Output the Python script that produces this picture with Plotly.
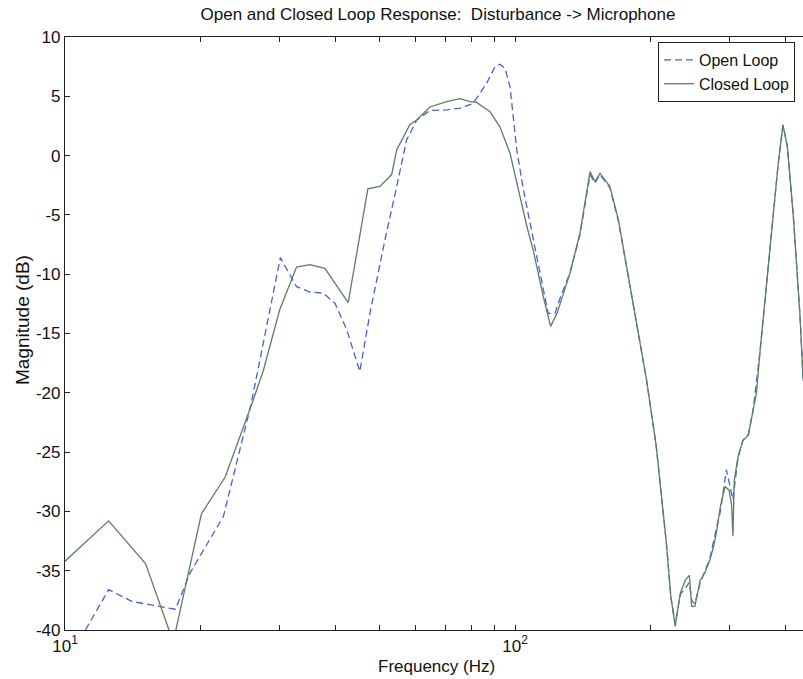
import plotly.graph_objects as go

# ---- data ----
closed_freq = [10, 12.5, 15.1, 17.4, 20.1, 22.7, 26.2, 27.6, 30.0, 32.7, 35.0, 37.8, 42.6, 47.1,
               50.1, 53.2, 54.6, 58.4, 60.5, 64.7, 70.5, 75.5, 79.4, 82.0, 88.0, 92.6, 97.5,
               100.9, 106.3, 109.8, 115.6, 120, 124, 132.5, 139.4, 146.8, 150.6, 154.5, 162.5, 169.7, 177, 196,
               206, 217, 222, 227, 233, 239, 244, 247, 251, 258, 264, 271, 276, 280, 286, 293,
               299, 303, 305, 307, 313, 321, 330, 338, 344, 350, 362, 371, 384, 394, 403, 416,
               430, 437]
closed_db = [-34.2, -30.8, -34.4, -41.0, -30.2, -27.1, -20.6, -18.1, -13.0, -9.4, -9.2, -9.5, -12.4, -2.8,
             -2.6, -1.6, 0.5, 2.6, 3.0, 4.1, 4.55, 4.8, 4.55, 4.5, 3.7, 2.4, 0.2,
             -2.3, -6.0, -8.0, -11.9, -14.4, -13.3, -9.9, -6.55, -1.35, -2.2, -1.5, -2.6, -5.4, -9.4, -18.9,
             -24.5, -32.7, -37.2, -39.7, -36.9, -35.8, -35.4, -38.0, -38.0, -35.8, -35.2, -34.1, -33.0, -31.9, -29.6, -27.9,
             -28.2, -29.5, -32.1, -27.4, -25.4, -24.0, -23.6, -21.5, -20.0, -16.7, -11.0, -6.5, -0.9, 2.6, 0.75, -5.4,
             -13.6, -19.0]

open_freq = [11.1, 12.5, 14.1, 17.6, 18.96, 22.5, 25.9, 30.1, 32.7, 35.0, 37.5, 39.8, 42.3, 45.2,
             47.6, 51.6, 54.6, 57.4, 60.5, 64.7, 70.5, 75.5, 80.0, 81.7, 86.5, 90.3, 92.6, 95.0,
             97.5, 100.9, 104.4, 109.8, 114.6, 118.5, 122.7, 126, 132.5, 139.4, 146.8, 150.6, 154.5, 162.5, 169.7, 177,
             196, 206, 217, 222, 227, 233, 239, 244, 247, 251, 258, 264, 271, 280, 286, 295, 305,
             313, 321, 330, 338, 350, 362, 371, 384, 394, 403, 416, 430, 437]
open_db = [-40.0, -36.6, -37.6, -38.25, -35.2, -30.4, -21.0, -8.6, -11.05, -11.5, -11.6, -12.45, -14.7, -18.2,
           -13.3, -6.8, -2.6, 1.3, 3.0, 3.8, 3.85, 4.0, 4.35, 4.7, 6.1, 7.5, 7.7, 7.36,
           5.8, 0.5, -2.9, -7.1, -10.8, -13.3, -13.3, -12.0, -9.9, -6.7, -1.6, -2.3, -1.6, -2.7, -5.5, -9.4,
           -18.9, -24.5, -32.7, -37.2, -39.5, -37.0, -36.5, -36.0, -37.5, -37.8, -36.0, -35.0, -34.0, -31.5, -30.0, -26.5, -29.0,
           -25.5, -24.0, -23.5, -21.5, -16.7, -11.0, -6.5, -0.9, 2.6, 0.75, -5.4, -13.6, -19.0]

y_ticks = [10, 5, 0, -5, -10, -15, -20, -25, -30, -35, -40]
x_major = [10, 100]
x_major_text = ["10<sup>1</sup>", "10<sup>2</sup>"]
x_minor = [20, 30, 40, 50, 60, 70, 80, 90, 200, 300, 400]

FONT = "Liberation Sans, Arial, sans-serif"
TXT = "#111"
PLOT_L, PLOT_R, PLOT_T, PLOT_B = 65, 803, 37, 630
PW, PH = PLOT_R - PLOT_L, PLOT_B - PLOT_T

fig = go.Figure()
fig.add_trace(go.Scatter(x=open_freq, y=open_db, mode="lines", name="Open Loop",
                         line=dict(color="#4d5fd0", width=1.3, dash="7px,4px")))
fig.add_trace(go.Scatter(x=closed_freq, y=closed_db, mode="lines", name="Closed Loop",
                         line=dict(color="#5d7d68", width=1.3)))

fig.update_layout(
    width=803, height=679,
    margin=dict(l=PLOT_L, r=803 - PLOT_R, t=PLOT_T, b=679 - PLOT_B, autoexpand=False),
    paper_bgcolor="white", plot_bgcolor="white",
    font=dict(family=FONT, size=17, color=TXT),
    title=dict(text="Open and Closed Loop Response:  Disturbance -> Microphone",
               x=438 / 803, xref="container", xanchor="center",
               y=1 - 14 / 679, yref="container", yanchor="middle",
               font=dict(family=FONT, size=17, color=TXT)),
    showlegend=True,
    legend=dict(x=(795 - PLOT_L) / PW, xanchor="right", y=(PLOT_B - 42) / PH, yanchor="top",
                bordercolor="#222", borderwidth=1, bgcolor="white",
                font=dict(family=FONT, size=16, color=TXT),
                tracegroupgap=0, itemwidth=30),
    xaxis=dict(type="log", range=[1, 2.64], showgrid=False, zeroline=False,
               showline=True, linecolor="#222", linewidth=1.2, mirror="ticks",
               ticks="inside", ticklen=5, tickcolor="#222",
               tickvals=x_major, ticktext=x_major_text,
               tickfont=dict(family=FONT, size=17, color=TXT),
               minor=dict(tickvals=x_minor, ticks="inside", ticklen=5, tickcolor="#222", showgrid=False)),
    yaxis=dict(range=[-40, 10], showgrid=False, zeroline=False,
               showline=True, linecolor="#222", linewidth=1.2, mirror=False,
               ticks="inside", ticklen=5, tickcolor="#222",
               tickvals=y_ticks, ticktext=[str(v) for v in y_ticks],
               tickfont=dict(family=FONT, size=17, color=TXT)),
    annotations=[
        dict(text="Frequency (Hz)", xref="paper", yref="paper",
             x=(436 - PLOT_L) / PW, y=(PLOT_B - 666) / PH, xanchor="center", yanchor="middle",
             showarrow=False, font=dict(family=FONT, size=17, color=TXT)),
        dict(text="Magnitude (dB)", xref="paper", yref="paper",
             x=(22 - PLOT_L) / PW, y=(PLOT_B - 320) / PH, xanchor="center", yanchor="middle",
             textangle=-90, showarrow=False, font=dict(family=FONT, size=19, color=TXT)),
    ],
)

fig.write_html("out.html", config={"displayModeBar": False},
               post_script="document.body.style.margin='0';document.body.style.padding='0';")
